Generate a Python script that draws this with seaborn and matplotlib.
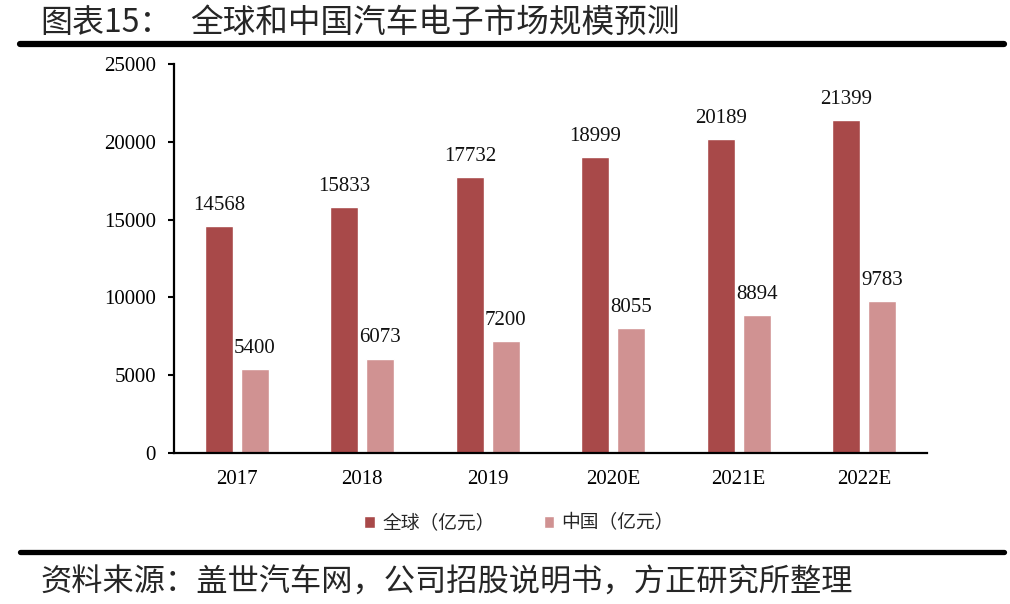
import pandas as pd
import matplotlib
matplotlib.use("Agg")
import matplotlib.pyplot as plt
from matplotlib.lines import Line2D
import seaborn as sns

years = ["2017", "2018", "2019", "2020E", "2021E", "2022E"]
global_vals = [14568, 15833, 17732, 18999, 20189, 21399]
china_vals = [5400, 6073, 7200, 8055, 8894, 9783]
series_names = ["全球（亿元）", "中国（亿元）"]
colors = ["#A84949", "#D09292"]

df = pd.DataFrame({
    "year": years * 2,
    "value": global_vals + china_vals,
    "series": [series_names[0]] * len(years) + [series_names[1]] * len(years),
})

sns.set_theme(style="white")
plt.rcParams["font.family"] = ["Liberation Serif", "Noto Sans CJK SC", "DejaVu Sans"]

fig = plt.figure(figsize=(10.1, 6.04), dpi=100)
ax = fig.add_axes([0.1723, 0.25, 0.7455, 0.644])

sns.barplot(data=df, x="year", y="value", hue="series", palette=colors,
            width=0.57, gap=0.22, ax=ax, legend=True, saturation=1)

for cont in ax.containers:
    ax.bar_label(cont, labels=[f"{int(v)}" for v in cont.datavalues],
                 padding=8, fontsize=15, color="#111111")

ax.set_ylim(0, 25000)
ax.set_yticks(range(0, 25001, 5000))
ax.set_xlim(-0.5, 5.5)
ax.set_xlabel("")
ax.set_ylabel("")
for s in ["top", "right"]:
    ax.spines[s].set_visible(False)
for s in ["left", "bottom"]:
    ax.spines[s].set_color("black")
    ax.spines[s].set_linewidth(1.6)
ax.tick_params(axis="y", left=True, length=4, width=1.5, labelsize=15,
               pad=9, colors="black")
ax.tick_params(axis="x", bottom=False, labelsize=15, pad=6, colors="black")

handles, labels = ax.get_legend_handles_labels()
ax.get_legend().remove()
fig.legend(handles, labels, loc="center", bbox_to_anchor=(0.514, 0.134), ncol=2,
           frameon=False, handlelength=0.55, handleheight=0.55, handletextpad=0.4,
           columnspacing=2.6, prop={"family": ["Noto Sans CJK SC"], "size": 13.5})

fig.text(0.04, 0.962, "图表15：", fontsize=23, family=["Noto Sans CJK SC"],
         va="center", ha="left", fontweight="light")
fig.text(0.188, 0.962, "全球和中国汽车电子市场规模预测", fontsize=23.5,
         family=["Noto Sans CJK SC"], va="center", ha="left", fontweight="light")
fig.text(0.04, 0.036, "资料来源：盖世汽车网，公司招股说明书，方正研究所整理",
         fontsize=22.5, family=["Noto Sans CJK SC"], va="center", ha="left",
         style="italic", fontweight="light")

fig.add_artist(Line2D([0.02, 0.994], [1 - 44 / 604] * 2, lw=4.5, color="black"))
fig.add_artist(Line2D([0.02, 0.994], [1 - 552 / 604] * 2, lw=3.8, color="black"))

fig.savefig("out.png", dpi=100)
